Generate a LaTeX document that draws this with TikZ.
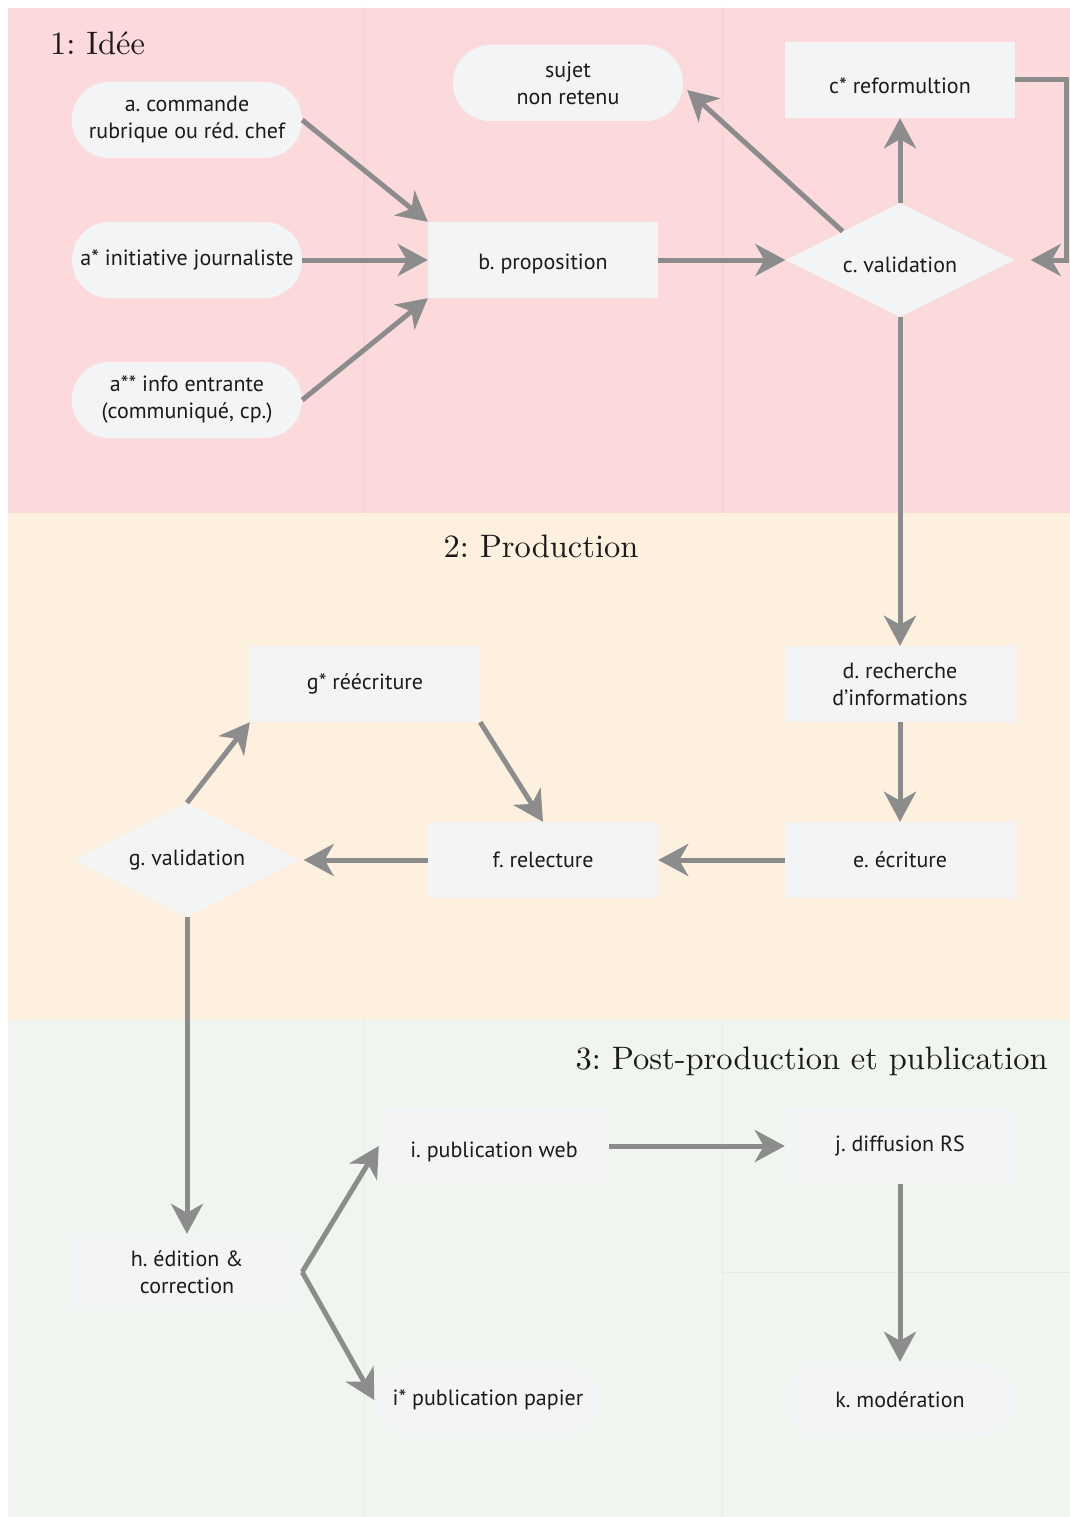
\documentclass[tikz,border=0pt]{standalone}
\usepackage{fontspec}
\setsansfont{PT Sans}
\newfontfamily\ttlfont{lmroman10-regular.otf}
\usetikzlibrary{shapes.geometric,arrows.meta,calc}
\definecolor{pinkbg}{HTML}{FCDADC}
\definecolor{orangebg}{HTML}{FDF0DE}
\definecolor{greenbg}{HTML}{F0F6EF}
\definecolor{pinkline}{HTML}{F3CFD1}
\definecolor{greenline}{HTML}{E5EEE4}
\definecolor{boxfill}{HTML}{F3F4F6}
\definecolor{arrowc}{HTML}{8C8C8C}
\definecolor{textc}{HTML}{1E1A1B}
\frenchspacing
\begin{document}
\begin{tikzpicture}[x=1pt,y=-1pt,
  box/.style={fill=boxfill, minimum width=230pt, minimum height=76pt, inner sep=2pt, align=center,
    font=\sffamily\fontsize{22}{27}\selectfont, text=textc},
  pill/.style={box, rounded corners=37.5pt},
  dia/.style={diamond, aspect=2, fill=boxfill, minimum width=229pt, minimum height=114pt, inner sep=2pt,
    font=\sffamily\fontsize{22}{27}\selectfont, text=textc},
  low/.style={text height=#1, text depth=0pt},
  ttl/.style={font=\ttlfont\fontsize{32.5}{38}\selectfont, text=textc, inner sep=0pt},
  arr/.style={draw=arrowc, line width=5pt, -{Stealth[length=30pt,width=32pt,inset=9pt]}}]
\useasboundingbox (0,0) rectangle (1070,1517);
% backgrounds
\fill[pinkbg] (8,8) rectangle (1070,513);
\fill[orangebg] (8,513) rectangle (1070,1020);
\fill[greenbg] (8,1020) rectangle (1070,1517);
\draw[pinkline, line width=1pt] (364,8) -- (364,513) (722,8) -- (722,513);
\draw[greenline, line width=1pt] (364,1020) -- (364,1517) (722,1020) -- (722,1517) (722,1272) -- (1070,1272);
% titles
\node[ttl, anchor=base west] (t1) at (50,55) {1: Idée};
\node[ttl, anchor=base] (t2) at (541,557) {2: Production};
\node[ttl, anchor=base east] (t3) at (1048,1069) {3: Post-production et publication};
% nodes
\node[pill] (a) at (187,120) {a. commande\\rubrique ou réd. chef};
\node[pill] (as) at (187,260) {a* initiative journaliste};
\node[pill] (ass) at (187,400) {a** info entrante\\(communiqué, cp.)};
\node[box, low=19pt] (b) at (543,260) {b. proposition};
\node[pill] (sj) at (568,83) {sujet\\non retenu};
\node[box, low=28pt] (cs) at (900,80) {c* reformultion};
\node[dia, low=24pt] (cv) at (900,260) {c. validation};
\node[box] (d) at (900,684) {d. recherche\\d’informations};
\node[box] (e) at (900,860) {e. écriture};
\node[box] (f) at (543,860) {f. relecture};
\node[box] (gs) at (365,684) {g* réécriture};
\node[dia, minimum width=225pt] (gv) at (187,860) {g. validation};
\node[box] (h) at (187,1272) {h. édition \&\\correction};
\node[box, low=23pt] (i) at (494,1146) {i. publication web};
\node[pill, minimum width=227pt] (is) at (488,1400) {i* publication papier};
\node[box] (j) at (900,1146) {j. diffusion RS};
\node[pill] (k) at (900,1400) {k. modération};
% arrows
\draw[arr] (a.east) -- (b.north west);
\draw[arr] (as.east) -- (b.west);
\draw[arr] (ass.east) -- (b.south west);
\draw[arr] (b.east) -- (cv.west);
\draw[arr] (cv.north) -- (cs.south);
\draw[arr] ($(cv.north)!0.5!(cv.west)$) -- ([shift={(4,7)}]sj.east);
\draw[arr] (cs.east) -- ++(51,0) |- ([xshift=16pt]cv.east);
\draw[arr] (cv.south) -- (d.north);
\draw[arr] (d.south) -- (e.north);
\draw[arr] (e.west) -- (f.east);
\draw[arr] (f.west) -- ([xshift=4pt]gv.east);
\draw[arr] (gv.north) -- (gs.south west);
\draw[arr] (gs.south east) -- (f.north);
\draw[arr] (gv.south) -- (h.north);
\draw[arr] (h.east) -- (i.west);
\draw[arr] (h.east) -- (is.west);
\draw[arr] (i.east) -- (j.west);
\draw[arr] (j.south) -- (k.north);
\end{tikzpicture}
\end{document}
